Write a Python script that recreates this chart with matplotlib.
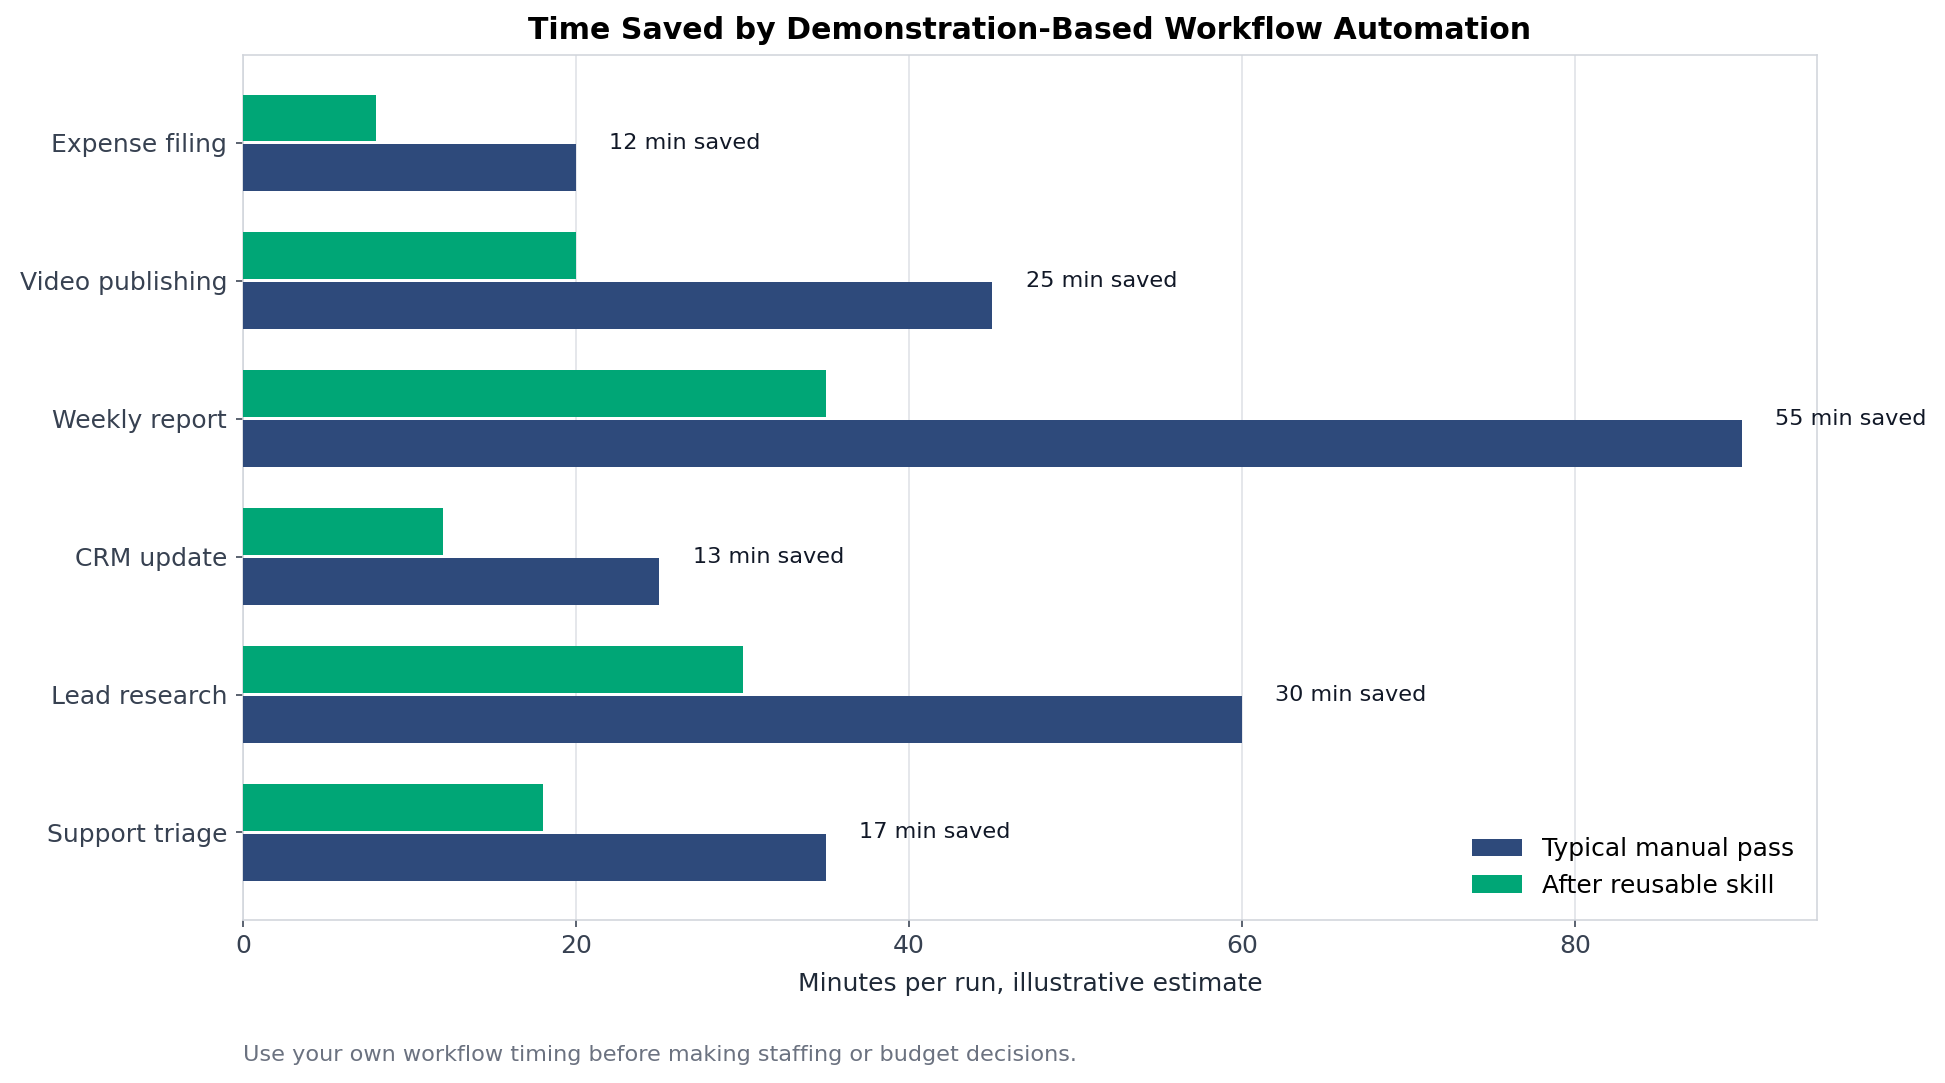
import matplotlib.pyplot as plt
import numpy as np

# Workflows, listed top to bottom as in the chart
workflows = ['Expense filing', 'Video publishing', 'Weekly report',
             'CRM update', 'Lead research', 'Support triage']
manual_minutes = [20, 45, 90, 25, 60, 35]
skill_minutes = [8, 20, 35, 12, 30, 18]

navy = '#2e4a7b'
green = '#00a676'
text_dark = '#374151'

fig = plt.figure(figsize=(1945 / 144, 1083 / 144), dpi=144)
ax = fig.add_axes([0.125, 0.1505, 0.809, 0.7985])

# Reverse so the first workflow is at the top
y = np.arange(len(workflows))[::-1]
h = 0.34

ax.barh(y - 0.18, manual_minutes, height=h, color=navy, label='Typical manual pass', zorder=3)
ax.barh(y + 0.18, skill_minutes, height=h, color=green, label='After reusable skill', zorder=3)

for yi, m, s in zip(y, manual_minutes, skill_minutes):
    ax.text(m + 2, yi, f'{m - s} min saved', va='center', ha='left', fontsize=11.2, color='#111827')

ax.set_yticks(y)
ax.set_yticklabels(workflows, fontsize=12.5, color=text_dark)
ax.set_xlim(0, max(manual_minutes) * 1.05)
ax.tick_params(axis='x', labelsize=12.5, labelcolor=text_dark, color=text_dark)
ax.tick_params(axis='y', color=text_dark, pad=4.5)

ax.grid(axis='x', color='#e5e7eb', linewidth=1, zorder=0)
ax.set_axisbelow(True)
for spine in ax.spines.values():
    spine.set_color('#d1d5db')

ax.set_xlabel('Minutes per run, illustrative estimate', fontsize=12.5, color='#1f2937', labelpad=7)
ax.set_title('Time Saved by Demonstration-Based Workflow Automation', fontsize=15,
             fontweight='bold', pad=8)

ax.legend(loc='lower right', frameon=False, fontsize=12.5)

fig.text(0.125, 0.026, 'Use your own workflow timing before making staffing or budget decisions.',
         fontsize=11.2, color='#6b7280', ha='left', va='center')

plt.savefig('out.png', dpi=144)
